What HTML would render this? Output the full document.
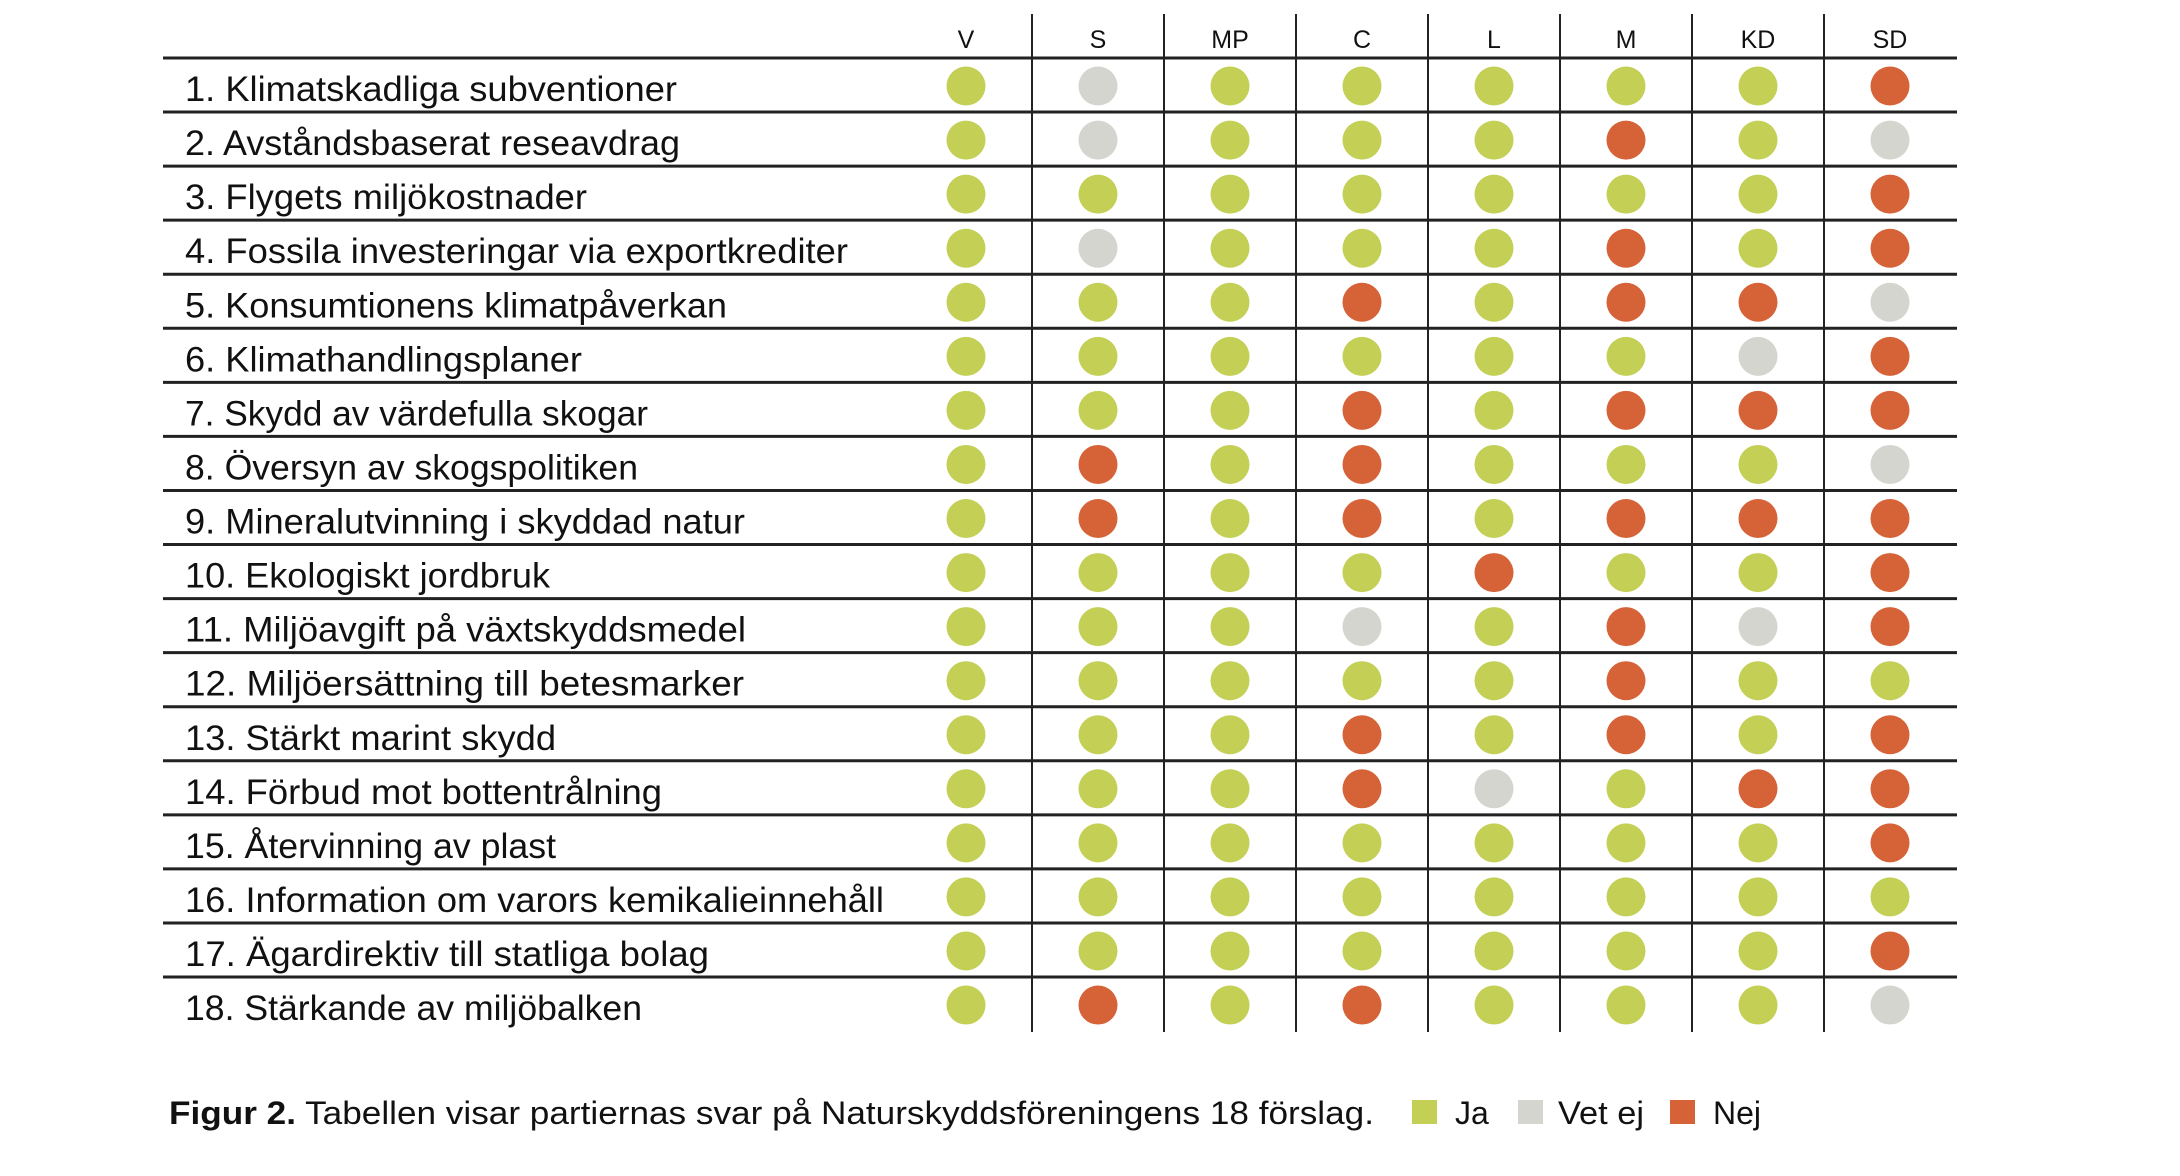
<!DOCTYPE html>
<html><head><meta charset="utf-8"><style>
html,body{margin:0;padding:0;background:#fff;}
svg{display:block;font-family:"Liberation Sans",sans-serif;}
</style></head><body>
<svg id="chart" width="2180" height="1176" viewBox="0 0 2180 1176">
<text x="169" y="1124" font-size="32" fill="#111" textLength="1205" lengthAdjust="spacingAndGlyphs"><tspan font-weight="bold">Figur 2.</tspan> Tabellen visar partiernas svar på Naturskyddsföreningens 18 förslag.</text>
<rect x="1412" y="1100" width="25" height="24" fill="#c3cf55"/>
<text x="1455" y="1124" font-size="32" fill="#111">Ja</text>
<rect x="1518" y="1100" width="25" height="24" fill="#d5d5cf"/>
<text x="1558" y="1124" font-size="32" fill="#111" textLength="86" lengthAdjust="spacingAndGlyphs">Vet ej</text>
<rect x="1670" y="1100" width="25" height="24" fill="#d66338"/>
<text x="1713" y="1124" font-size="32" fill="#111">Nej</text>
</svg>
<script>
const parties = ["V","S","MP","C","L","M","KD","SD"];
const proposals = ["1. Klimatskadliga subventioner","2. Avståndsbaserat reseavdrag","3. Flygets miljökostnader","4. Fossila investeringar via exportkrediter","5. Konsumtionens klimatpåverkan","6. Klimathandlingsplaner","7. Skydd av värdefulla skogar","8. Översyn av skogspolitiken","9. Mineralutvinning i skyddad natur","10. Ekologiskt jordbruk","11. Miljöavgift på växtskyddsmedel","12. Miljöersättning till betesmarker","13. Stärkt marint skydd","14. Förbud mot bottentrålning","15. Återvinning av plast","16. Information om varors kemikalieinnehåll","17. Ägardirektiv till statliga bolag","18. Stärkande av miljöbalken"];
const answers = [
"JUJJJJJN","JUJJJNJU","JJJJJJJN","JUJJJNJN","JJJNJNNU","JJJJJJUN",
"JJJNJNNN","JNJNJJJU","JNJNJNNN","JJJJNJJN","JJJUJNUN","JJJJJNJJ",
"JJJNJNJN","JJJNUJNN","JJJJJJJN","JJJJJJJJ","JJJJJJJN","JNJNJJJU"];
const labelEnds = [677,680,587,848,727,582,648,638,745,550,746,744,556,662,556,884,709,642];

const NS="http://www.w3.org/2000/svg";
const svgEl=document.getElementById('chart');
const colors={J:"#c3cf55",U:"#d5d5cf",N:"#d66338"};
const names={J:"ja",U:"vet-ej",N:"nej"};
const tblLeft=163,tblRight=1957,tblTop=58,rowH=54.06,col0=966,colW=132;
const xCol=i=>col0+i*colW;
const yRow=r=>tblTop+r*rowH;
function mk(tag,attrs){const e=document.createElementNS(NS,tag);for(const k in attrs)e.setAttribute(k,attrs[k]);svgEl.appendChild(e);return e;}

for(let i=0;i<parties.length-1;i++){
  const l=mk('line',{x1:xCol(i)+66,x2:xCol(i)+66,y1:14,y2:1032,stroke:"#222","stroke-width":2});
  
  
}
for(let r=0;r<proposals.length;r++){
  const l=mk('line',{x1:tblLeft,x2:tblRight,y1:yRow(r),y2:yRow(r),stroke:"#222","stroke-width":3});
  
  
}
parties.forEach((p,i)=>{
  const t=mk('text',{x:xCol(i),y:48,"font-size":25,"text-anchor":"middle",fill:"#111"});
  t.textContent=p;
  
  
});
proposals.forEach((lab,r)=>{
  const cy=yRow(r)+rowH/2;
  const t=mk('text',{x:185,y:cy+16,"font-size":35,fill:"#111",textLength:labelEnds[r]-185,lengthAdjust:"spacingAndGlyphs"});
  t.textContent=lab;
  
  
  for(let i=0;i<parties.length;i++){
    const a=answers[r][i];
    const c=mk('circle',{cx:xCol(i),cy:cy+1,r:19.5,fill:colors[a]});
    
    
  }
});
</script>
</body></html>
